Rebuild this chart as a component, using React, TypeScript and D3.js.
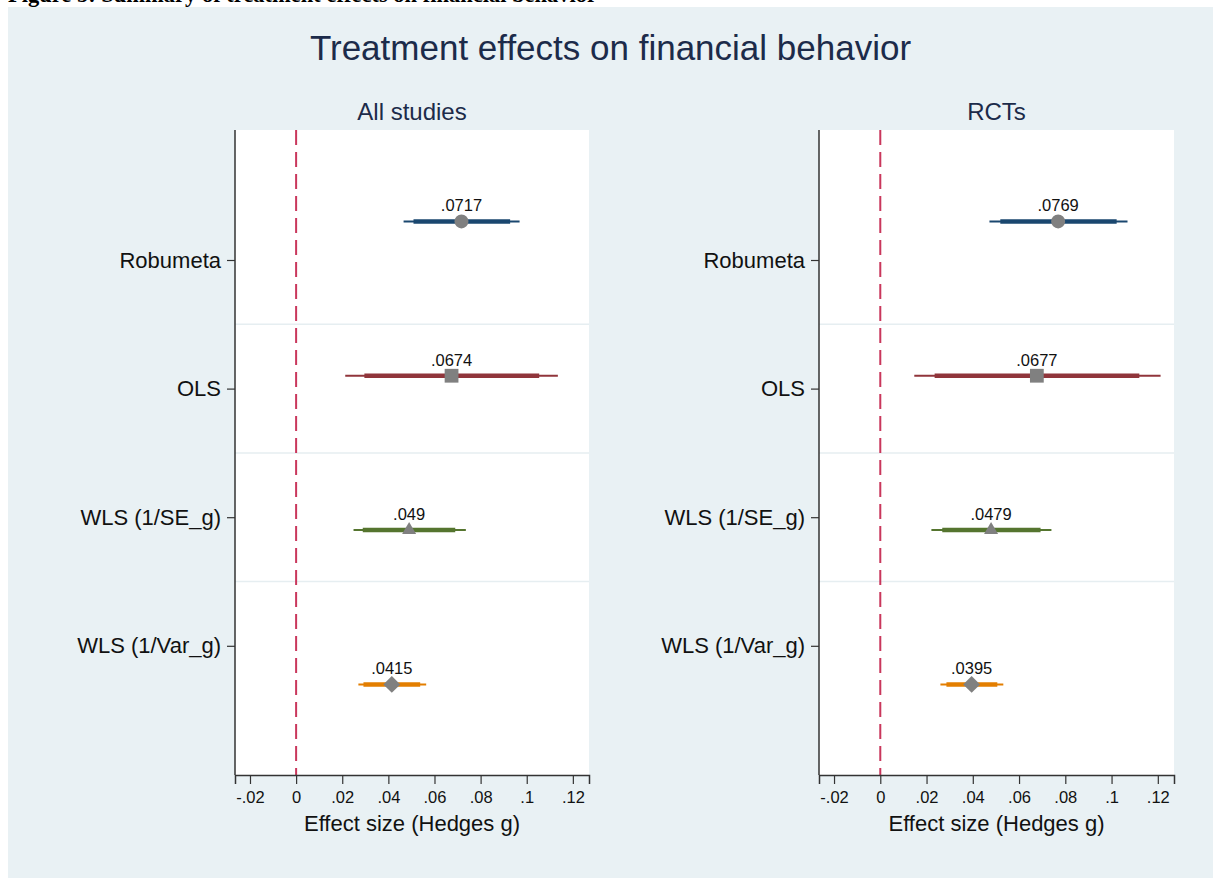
import React, { useEffect, useRef } from 'react';
import * as d3 from 'd3';

const models = ["Robumeta", "OLS", "WLS (1/SE_g)", "WLS (1/Var_g)"];
const modelOffsets = [-0.3, -0.1, 0.1, 0.3]; // coefplot offsets within each row
const modelColors = ["#1a476f", "#90353b", "#55752f", "#e37e00"];
const modelShapes = ["circle", "square", "triangle", "diamond"];

// All studies
const allEst = [0.0717, 0.0674, 0.049, 0.0415];
const allLo95 = [0.0466, 0.0213, 0.0249, 0.027];
const allHi95 = [0.0969, 0.1135, 0.0736, 0.0564];
const allLo90 = [0.0509, 0.0296, 0.0289, 0.0292];
const allHi90 = [0.0928, 0.1054, 0.069, 0.0538];

// RCTs
const rctEst = [0.0769, 0.0677, 0.0479, 0.0395];
const rctLo95 = [0.0472, 0.0147, 0.0221, 0.026];
const rctHi95 = [0.1069, 0.1212, 0.074, 0.0532];
const rctLo90 = [0.0519, 0.0235, 0.0268, 0.0286];
const rctHi90 = [0.1022, 0.112, 0.0693, 0.0506];

const xTicks = [-0.02, 0, 0.02, 0.04, 0.06, 0.08, 0.1, 0.12];
const xTickLabels = ["-.02", "0", ".02", ".04", ".06", ".08", ".1", ".12"];

const panels = [
  { title: "All studies", est: allEst, lo95: allLo95, hi95: allHi95, lo90: allLo90, hi90: allHi90, left: 235, right: 589 },
  { title: "RCTs", est: rctEst, lo95: rctLo95, hi95: rctHi95, lo90: rctLo90, hi90: rctHi90, left: 819, right: 1174 },
];

const FONT = "'Liberation Sans', Arial, Helvetica, sans-serif";
const W = 1213;
const H = 878;
const TOP = 130;
const BOTTOM = 775;

const shapePath = (shape: string) => {
  if (shape === "circle") return d3.symbol().type(d3.symbolCircle).size(154)();
  if (shape === "square") return d3.symbol().type(d3.symbolSquare).size(190)();
  if (shape === "triangle") return d3.symbol().type(d3.symbolTriangle).size(85)();
  return d3.symbol().type(d3.symbolSquare).size(144)();
};

const App = () => {
  const ref = useRef<HTMLDivElement>(null);

  useEffect(() => {
    const root = d3.select(ref.current);
    root.selectAll("*").remove();

    const svg = root.append("svg")
      .attr("width", W)
      .attr("height", H)
      .style("position", "absolute")
      .style("left", 0)
      .style("top", 0)
      .style("font-family", FONT);

    // caption of the page, cut off at the top
    svg.append("text")
      .attr("x", 8)
      .attr("y", 2)
      .attr("font-family", "'Liberation Serif', 'Times New Roman', serif")
      .attr("font-weight", "bold")
      .attr("font-size", 22.5)
      .text("Figure 5: Summary of treatment effects on financial behavior");

    svg.append("rect")
      .attr("x", 8).attr("y", 7)
      .attr("width", W - 8).attr("height", H - 7)
      .attr("fill", "#e9f1f4");

    svg.append("text")
      .attr("x", 610.5)
      .attr("y", 60)
      .attr("text-anchor", "middle")
      .attr("font-size", 35)
      .attr("fill", "#1c2b4a")
      .text("Treatment effects on financial behavior");

    const y = d3.scaleLinear().domain([0, 5]).range([131.4, 774.4]);

    panels.forEach(p => {
      const x = d3.scaleLinear().domain([-0.0265, 0.127]).range([p.left, p.right]);
      const g = svg.append("g");

      g.append("rect")
        .attr("x", p.left).attr("y", TOP)
        .attr("width", p.right - p.left).attr("height", BOTTOM - TOP)
        .attr("fill", "#ffffff");

      g.append("text")
        .attr("x", (p.left + p.right) / 2)
        .attr("y", 120)
        .attr("text-anchor", "middle")
        .attr("font-size", 24)
        .attr("fill", "#1c2b4a")
        .text(p.title);

      // row separators
      g.selectAll(".grid")
        .data([1.5, 2.5, 3.5])
        .join("line")
        .attr("x1", p.left).attr("x2", p.right)
        .attr("y1", d => y(d)).attr("y2", d => y(d))
        .attr("stroke", "#e6eef1")
        .attr("stroke-width", 1.5);

      // zero reference line
      g.append("line")
        .attr("x1", x(0)).attr("x2", x(0))
        .attr("y1", TOP).attr("y2", BOTTOM)
        .attr("stroke", "#c9375c")
        .attr("stroke-width", 2)
        .attr("stroke-dasharray", "15,7");

      const xAxis = d3.axisBottom(x)
        .tickValues(xTicks)
        .tickFormat((d, i) => xTickLabels[i])
        .tickSizeOuter(0)
        .tickSize(9)
        .tickPadding(7);

      const ax = g.append("g")
        .attr("transform", `translate(0,${BOTTOM})`)
        .call(xAxis);
      ax.select(".domain").attr("stroke", "#333").attr("stroke-width", 1.5);
      ax.selectAll(".tick line").attr("stroke", "#333").attr("stroke-width", 1.2);
      ax.selectAll(".tick text").attr("font-size", 16.5).attr("font-family", FONT).attr("fill", "#111");

      const yAxis = d3.axisLeft(y)
        .tickValues([1, 2, 3, 4])
        .tickFormat((d, i) => models[i])
        .tickSizeOuter(0)
        .tickSize(8)
        .tickPadding(6);

      const ay = g.append("g")
        .attr("transform", `translate(${p.left},0)`)
        .call(yAxis);
      ay.select(".domain").attr("d", `M0,${TOP}V${BOTTOM}`).attr("stroke", "#333").attr("stroke-width", 1.5);
      ay.selectAll(".tick line").attr("stroke", "#333").attr("stroke-width", 1.2);
      ay.selectAll(".tick text").attr("font-size", 22).attr("font-family", FONT).attr("fill", "#111");

      g.append("text")
        .attr("x", (p.left + p.right) / 2)
        .attr("y", 831)
        .attr("text-anchor", "middle")
        .attr("font-size", 22)
        .attr("fill", "#111")
        .text("Effect size (Hedges g)");

      models.forEach((m, i) => {
        const cy = y(i + 1 + modelOffsets[i]);
        const color = modelColors[i];
        g.append("line")
          .attr("x1", x(p.lo95[i])).attr("x2", x(p.hi95[i]))
          .attr("y1", cy).attr("y2", cy)
          .attr("stroke", color).attr("stroke-width", 2);
        g.append("line")
          .attr("x1", x(p.lo90[i])).attr("x2", x(p.hi90[i]))
          .attr("y1", cy).attr("y2", cy)
          .attr("stroke", color).attr("stroke-width", 4.5);
        g.append("path")
          .attr("d", shapePath(modelShapes[i]))
          .attr("transform", `translate(${x(p.est[i])},${cy})${modelShapes[i] === "diamond" ? " rotate(45)" : ""}`)
          .attr("fill", "#808080");
        g.append("text")
          .attr("x", x(p.est[i]))
          .attr("y", cy - 10)
          .attr("text-anchor", "middle")
          .attr("font-size", 16.5)
          .attr("fill", "#111")
          .text(String(p.est[i]).replace(/^0/, ""));
      });
    });
  }, []);

  return <div ref={ref}></div>;
};

export default App;
